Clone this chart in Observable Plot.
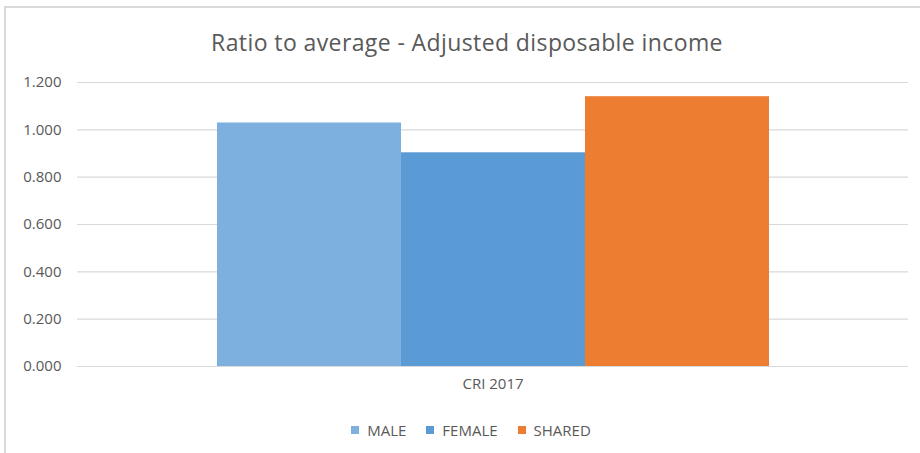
<!DOCTYPE html>
<html><head><meta charset="utf-8">
<script src="https://cdn.jsdelivr.net/npm/d3@7"></script>
<script src="https://cdn.jsdelivr.net/npm/@observablehq/plot@0.6"></script>
<style>
body{margin:0;background:#fff;font-family:"Open Sans",sans-serif;}
#frame{position:absolute;left:4px;top:6px;width:940px;height:480px;border:2px solid #d9d9d9;box-sizing:border-box;}
#title{position:absolute;left:4px;width:926px;top:26px;text-align:center;font-size:23px;letter-spacing:0.4px;line-height:32px;color:#595959;}
#chart{position:absolute;left:0;top:60px;}
#legend{position:absolute;left:4px;width:934px;top:419px;display:flex;justify-content:center;gap:20px;font-size:15px;line-height:22px;color:#595959;}
.item{display:flex;align-items:center;gap:8px;}
.sw{width:8px;height:8px;display:inline-block;}
</style></head>
<body>
<div id="frame"></div>
<div id="title">Ratio to average - Adjusted disposable income</div>
<div id="chart"></div>
<div id="legend"></div>
<script>
const categories = ["CRI 2017"];
const series = ["MALE", "FEMALE", "SHARED"];
const values = [1.029, 0.903, 1.140];
const colors = ["#7EB0DF", "#5B9BD5", "#ED7D31"];
const yTicks = [0, 0.2, 0.4, 0.6, 0.8, 1.0, 1.2];

const data = series.map((s, i) => ({cat: categories[0], series: s, value: values[i]}));

const chart = Plot.plot({
  width: 920, height: 340,
  marginLeft: 77, marginRight: 12, marginTop: 22, marginBottom: 34,
  style: {fontFamily: "Open Sans", fontSize: "15px", color: "#595959", background: "transparent"},
  fx: {domain: categories, padding: 0, label: null, axis: "bottom", tickSize: 0, tickPadding: 12},
  x: {domain: series, paddingInner: 0, paddingOuter: 0.75, axis: null},
  y: {domain: [0, 1.2], ticks: yTicks, tickFormat: d3.format(".3f"), label: null, tickSize: 0, tickPadding: 16},
  color: {domain: series, range: colors},
  marks: [
    Plot.ruleY(yTicks, {stroke: "#d9d9d9", strokeWidth: 1.2}),
    Plot.barY(data, {fx: "cat", x: "series", y: "value", fill: "series"})
  ]
});
document.getElementById("chart").appendChild(chart);

const legend = document.getElementById("legend");
series.forEach((s, i) => {
  const it = document.createElement("div");
  it.className = "item";
  const sw = document.createElement("span");
  sw.className = "sw";
  sw.style.background = colors[i];
  const t = document.createElement("span");
  t.textContent = s;
  it.appendChild(sw); it.appendChild(t);
  legend.appendChild(it);
});
</script>
</body></html>
